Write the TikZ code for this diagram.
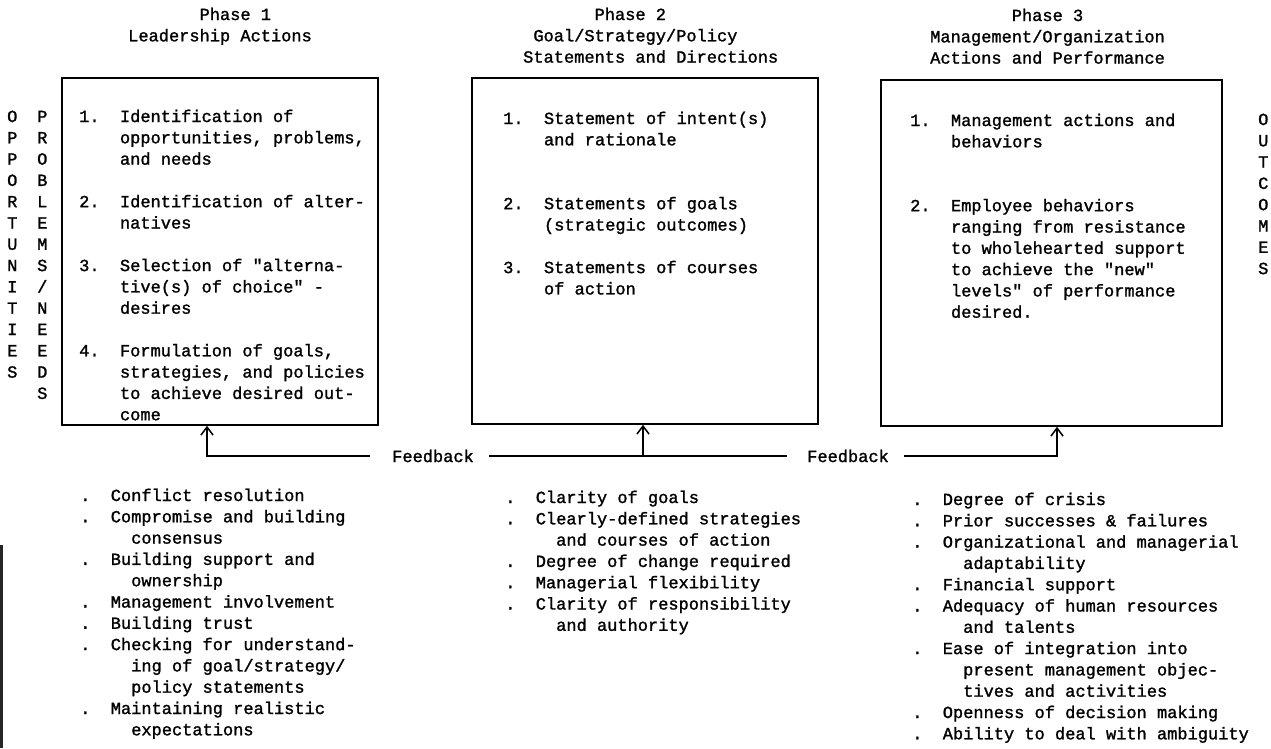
\documentclass[tikz,border=0pt]{standalone}
\usepackage{fontspec}
\setmainfont{Liberation Mono}[FakeBold=1.4, Ligatures=TeXOff]
\usetikzlibrary{arrows.meta}

% one typewriter character cell
\newlength\cw
\setlength\cw{10.2pt}
% a column of lines on a fixed 21.3pt pitch; its baseline is the first line's
\newcommand\colstack[1]{\vtop{\baselineskip=21.3pt\lineskiplimit=-100pt\lineskip=0pt #1}}
\newcommand\Lr[1]{\hbox{#1}}
\newcommand\Bl{\hbox{}}
% numbered item: first line and its continuation lines
\newcommand\Ni[2]{\hbox{\hbox to 4\cw{#1\hfil}#2}}
\newcommand\Nc[1]{\hbox{\hskip4\cw #1}}
% dotted list item: first line and its continuation lines
\newcommand\Bi[1]{\hbox{\hbox to 3\cw{.\hfil}#1}}
\newcommand\Bc[1]{\hbox{\hskip5\cw #1}}
% one letter of a vertical word
\newcommand\Ch[1]{\hbox to \cw{\hss#1\hss}}

\tikzset{
  txt/.style={anchor=base west, inner sep=0pt, font=\fontsize{17}{21.3}\selectfont},
  phasebox/.style={draw, line width=1.6pt, inner sep=0pt},
  fbline/.style={line width=1.5pt},
  uparrow/.style={-{Straight Barb[length=8pt,width=12pt]}},
}

\begin{document}
\begin{tikzpicture}[x=1pt,y=-1pt]
\useasboundingbox (0,0) rectangle (1271,748);

% phase headings
\node[txt] (h1) at (128,20) {\colstack{\Lr{\hskip7\cw Phase 1}\Lr{Leadership Actions}}};
\node[txt] (h2) at (523,20) {\colstack{\Lr{\hskip7\cw Phase 2}\Lr{\hskip1\cw Goal/Strategy/Policy}\Lr{Statements and Directions}}};
\node[txt] (h3) at (930,21) {\colstack{\Lr{\hskip8\cw Phase 3}\Lr{Management/Organization}\Lr{Actions and Performance}}};

% the three phase boxes
\node[phasebox, minimum width=316pt, minimum height=347pt] (b1) at (220,251.5) {};
\node[phasebox, minimum width=346pt, minimum height=346pt] (b2) at (645,251) {};
\node[phasebox, minimum width=341pt, minimum height=346pt] (b3) at (1051.5,253) {};

% box contents
\node[txt] (t1) at (79,122) {\colstack{%
  \Ni{1.}{Identification of}\Nc{opportunities, problems,}\Nc{and needs}\Bl
  \Ni{2.}{Identification of alter-}\Nc{natives}\Bl
  \Ni{3.}{Selection of "alterna-}\Nc{tive(s) of choice" -}\Nc{desires}\Bl
  \Ni{4.}{Formulation of goals,}\Nc{strategies, and policies}\Nc{to achieve desired out-}\Nc{come}}};
\node[txt] (t2) at (503,124) {\colstack{%
  \Ni{1.}{Statement of intent(s)}\Nc{and rationale}\Bl\Bl
  \Ni{2.}{Statements of goals}\Nc{(strategic outcomes)}\Bl
  \Ni{3.}{Statements of courses}\Nc{of action}}};
\node[txt] (t3) at (910,126) {\colstack{%
  \Ni{1.}{Management actions and}\Nc{behaviors}\Bl\Bl
  \Ni{2.}{Employee behaviors}\Nc{ranging from resistance}\Nc{to wholehearted support}%
  \Nc{to achieve the "new"}\Nc{levels" of performance}\Nc{desired.}}};

% vertical words at the sides
\node[txt] (opp) at (7,122) {\colstack{\Ch{O}\Ch{P}\Ch{P}\Ch{O}\Ch{R}\Ch{T}\Ch{U}\Ch{N}\Ch{I}\Ch{T}\Ch{I}\Ch{E}\Ch{S}}};
\node[txt] (pbn) at (37,122) {\colstack{\Ch{P}\Ch{R}\Ch{O}\Ch{B}\Ch{L}\Ch{E}\Ch{M}\Ch{S}\Ch{/}\Ch{N}\Ch{E}\Ch{E}\Ch{D}\Ch{S}}};
\node[txt] (out) at (1258,125) {\colstack{\Ch{O}\Ch{U}\Ch{T}\Ch{C}\Ch{O}\Ch{M}\Ch{E}\Ch{S}}};

% feedback loop
\node[txt] (fbA) at (392,462) {Feedback};
\node[txt] (fbB) at (807,462) {Feedback};
\coordinate (j1) at (207,457);
\coordinate (j2) at (643,457);
\coordinate (j3) at (1057,457);
\draw[fbline, uparrow] ([xshift=-22pt]fbA.west) -| (b1.south -| j1);
\draw[fbline] ([xshift=15pt]fbA.east) -- ([xshift=-20pt]fbB.west);
\draw[fbline, uparrow] (fbA.east -| j2) -- (b2.south -| j2);
\draw[fbline, uparrow] ([xshift=15pt]fbB.east) -| (b3.south -| j3);

% factor lists under each phase
\node[txt] (l1) at (80,501) {\colstack{%
  \Bi{Conflict resolution}\Bi{Compromise and building}\Bc{consensus}
  \Bi{Building support and}\Bc{ownership}\Bi{Management involvement}
  \Bi{Building trust}\Bi{Checking for understand-}\Bc{ing of goal/strategy/}
  \Bc{policy statements}\Bi{Maintaining realistic}\Bc{expectations}}};
\node[txt] (l2) at (505,503) {\colstack{%
  \Bi{Clarity of goals}\Bi{Clearly-defined strategies}\Bc{and courses of action}
  \Bi{Degree of change required}\Bi{Managerial flexibility}
  \Bi{Clarity of responsibility}\Bc{and authority}}};
\node[txt] (l3) at (912,505) {\colstack{%
  \Bi{Degree of crisis}\Bi{Prior successes \& failures}
  \Bi{Organizational and managerial}\Bc{adaptability}\Bi{Financial support}
  \Bi{Adequacy of human resources}\Bc{and talents}\Bi{Ease of integration into}
  \Bc{present management objec-}\Bc{tives and activities}
  \Bi{Openness of decision making}\Bi{Ability to deal with ambiguity}}};

% dark edge along the lower left margin
\fill[black!85] (0,545) rectangle (3,748);
\end{tikzpicture}
\end{document}
